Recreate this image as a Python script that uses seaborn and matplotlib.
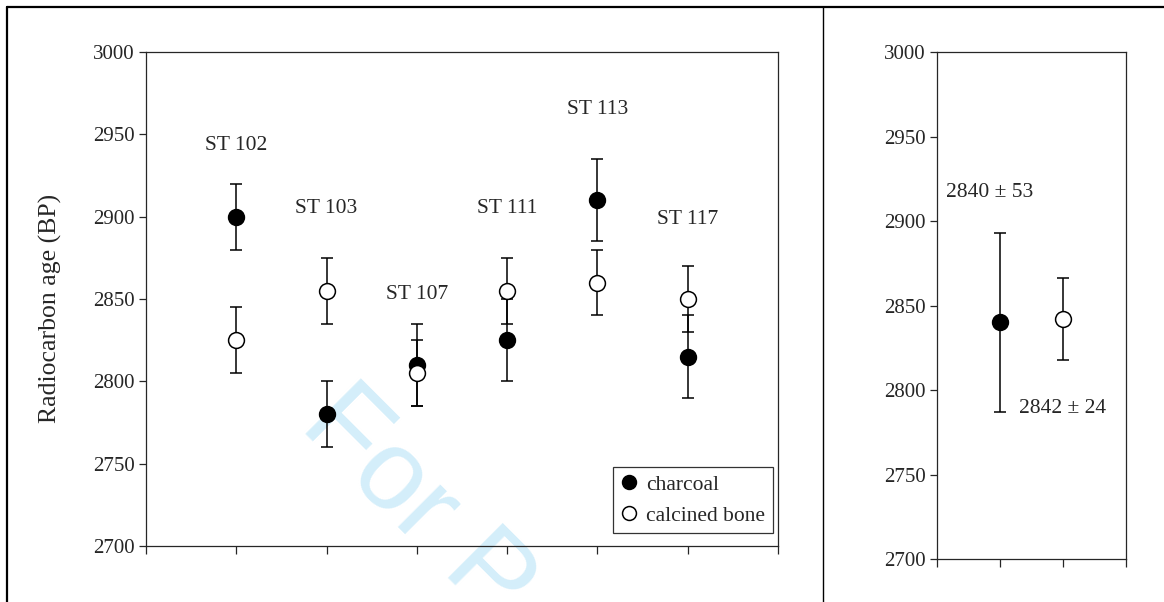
import matplotlib
matplotlib.use("Agg")
import matplotlib.pyplot as plt
from matplotlib.lines import Line2D
import seaborn as sns
import pandas as pd

# pits (left panel)
features = ["ST 102", "ST 103", "ST 107", "ST 111", "ST 113", "ST 117"]
charcoal_age = [2900, 2780, 2810, 2825, 2910, 2815]
charcoal_err = [20, 20, 25, 25, 25, 25]
bone_age = [2825, 2855, 2805, 2855, 2860, 2850]
bone_err = [20, 20, 20, 20, 20, 20]
label_y = [2943, 2905, 2853, 2905, 2965, 2898]

# weighted means (right panel)
mean_age = [2840, 2842]
mean_err = [53, 24]
mean_text = ["2840 \u00b1 53", "2842 \u00b1 24"]

materials = ["charcoal", "calcined bone"]
face = {"charcoal": "black", "calcined bone": "white"}

sns.set_style("ticks")
plt.rcParams["font.family"] = ["Liberation Serif", "DejaVu Serif"]
plt.rcParams["axes.linewidth"] = 0.9

fig = plt.figure(figsize=(11.64, 6.02), dpi=100)

# outer frame lines
fig.add_artist(Line2D([0.006, 1.0], [0.9884, 0.9884], transform=fig.transFigure, color="black", lw=1.6))
fig.add_artist(Line2D([0.006, 0.006], [0.0, 0.9884], transform=fig.transFigure, color="black", lw=1.6))
fig.add_artist(Line2D([0.7073, 0.7073], [0.0, 0.9884], transform=fig.transFigure, color="black", lw=1.0))

# watermark, behind the axes
fig.text(0.256, 0.291, "For P", fontsize=82, color="#d4eefa", family=["Liberation Sans", "DejaVu Sans"],
         rotation=-45, rotation_mode="anchor", ha="left", va="baseline", zorder=-1)

# ---- left panel
ax = fig.add_axes([0.1254, 0.0930, 0.5430, 0.8206])
ax.set_facecolor("none")
xpos = list(range(1, len(features) + 1))
df = pd.DataFrame({
    "x": xpos * 2,
    "age": charcoal_age + bone_age,
    "err": charcoal_err + bone_err,
    "material": ["charcoal"] * len(features) + ["calcined bone"] * len(features),
})
for i, mat in enumerate(materials):
    sub = df[df["material"] == mat]
    ax.errorbar(sub["x"], sub["age"], yerr=sub["err"], fmt="none", ecolor="black",
                elinewidth=1.1, capsize=4.5, capthick=1.1, zorder=2 + 2 * i)
    sns.scatterplot(data=sub, x="x", y="age", ax=ax, color=face[mat], edgecolor="black",
                    linewidth=1.1, s=130, zorder=3 + 2 * i, legend=False)

for x, name, y in zip(xpos, features, label_y):
    ax.text(x, y, name, ha="center", va="center", fontsize=15.5)

ax.set_xlim(0, len(features) + 1)
ax.set_ylim(2700, 3000)
ax.set_xticks(range(0, len(features) + 2))
ax.set_xticklabels([])
ax.set_yticks(range(2700, 3001, 50))
ax.tick_params(axis="y", labelsize=15, length=5, width=0.9, pad=3, direction="out")
ax.tick_params(axis="x", length=6, width=0.9, direction="out")
ax.set_xlabel("")
ax.set_ylabel("Radiocarbon age (BP)", fontsize=18.5)
ax.yaxis.set_label_coords(-0.133, 0.48)

handles = [Line2D([], [], linestyle="none", marker="o", markersize=10, markerfacecolor=face[m],
                  markeredgecolor="black", markeredgewidth=1.1, label=m) for m in materials]
leg = ax.legend(handles=handles, loc="lower right", bbox_to_anchor=(0.992, 0.026), borderaxespad=0,
                fontsize=15.5, frameon=True, fancybox=False, edgecolor="black", handlelength=0.8,
                handletextpad=0.4, labelspacing=0.5, borderpad=0.35)
leg.get_frame().set_linewidth(0.9)

# ---- right panel
ax2 = fig.add_axes([0.8050, 0.0714, 0.1624, 0.8422])
mdf = pd.DataFrame({"x": [1, 2], "age": mean_age, "err": mean_err, "material": materials})
for i, mat in enumerate(materials):
    sub = mdf[mdf["material"] == mat]
    ax2.errorbar(sub["x"], sub["age"], yerr=sub["err"], fmt="none", ecolor="black",
                 elinewidth=1.1, capsize=4.5, capthick=1.1, zorder=2)
    sns.scatterplot(data=sub, x="x", y="age", ax=ax2, color=face[mat], edgecolor="black",
                    linewidth=1.1, s=130, zorder=3, legend=False)
ax2.text(1 - 0.17, 2917, mean_text[0], ha="center", va="center", fontsize=15.5)
ax2.text(2, 2789, mean_text[1], ha="center", va="center", fontsize=15.5)
ax2.set_xlim(0, 3)
ax2.set_ylim(2700, 3000)
ax2.set_xticks([0, 1, 2, 3])
ax2.set_xticklabels([])
ax2.set_yticks(range(2700, 3001, 50))
ax2.tick_params(axis="y", labelsize=15, length=5, width=0.9, pad=3, direction="out")
ax2.tick_params(axis="x", length=6, width=0.9, direction="out")
ax2.set_xlabel("")
ax2.set_ylabel("")

plt.savefig("out.png", dpi=100)
